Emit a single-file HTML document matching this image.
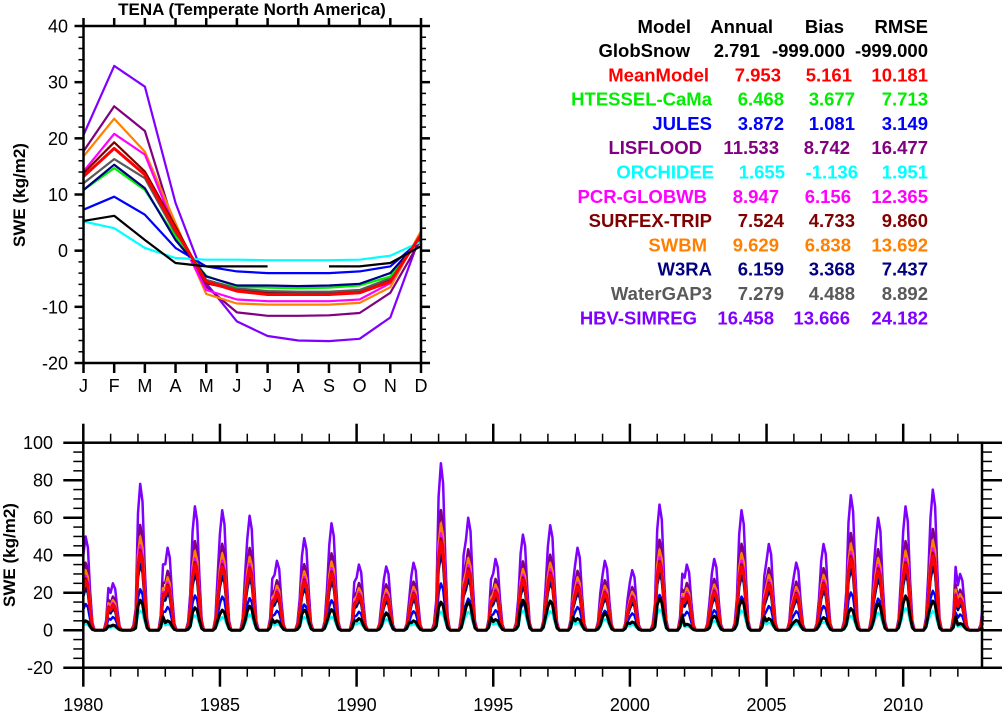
<!DOCTYPE html>
<html><head><meta charset="utf-8">
<style>
html,body{margin:0;padding:0;background:#fff;}
svg{display:block;font-family:"Liberation Sans",Arial,sans-serif;}
</style></head>
<body>
<svg id="fig" width="1004" height="712" viewBox="0 0 1004 712">
<g id="topPanel"></g>
<g id="botPanel"></g>
<g id="tbl"></g>
</svg>
<script>
// ---- data ----
const months = ["J","F","M","A","M","J","J","A","S","O","N","D"];
const modelNames = ["GlobSnow","MeanModel","HTESSEL-CaMa","JULES","LISFLOOD","ORCHIDEE","PCR-GLOBWB","SURFEX-TRIP","SWBM","W3RA","WaterGAP3","HBV-SIMREG"];
const modelColors = ["#000000","#ff0000","#00ee00","#0000ff","#800080","#00ffff","#ff00ff","#800000","#ff8000","#000080","#595959","#8000ff"];
const annualVals = ["2.791","7.953","6.468","3.872","11.533","1.655","8.947","7.524","9.629","6.159","7.279","16.458"];
const biasVals = ["-999.000","5.161","3.677","1.081","8.742","-1.136","6.156","4.733","6.838","3.368","4.488","13.666"];
const rmseVals = ["-999.000","10.181","7.713","3.149","16.477","1.951","12.365","9.860","13.692","7.437","8.892","24.182"];
const climGlobSnow = [5.3,6.2,1.9,-2.2,-2.8,-2.8,-2.8,null,-2.8,-2.8,-2.2,0.8];
const climMeanModel = [13.2,18.2,13.5,3.7,-5.5,-7.2,-7.8,-7.8,-7.8,-7.5,-5.5,2.8];
const climHTESSEL = [10.8,14.7,10.8,2.5,-4.5,-6.4,-6.6,-6.7,-6.6,-6.2,-4.6,2.5];
const climJULES = [7.3,9.6,6.4,0.5,-2.8,-3.7,-4.0,-4.0,-4.0,-3.7,-2.8,1.9];
const climLISFLOOD = [17.7,25.7,21.3,3.7,-6.4,-11.0,-11.6,-11.6,-11.5,-11.1,-7.5,2.0];
const climORCHIDEE = [5.2,4.0,0.5,-1.3,-1.6,-1.6,-1.7,-1.7,-1.7,-1.6,-0.9,1.6];
const climPCR = [14.1,20.8,17.1,3.7,-7.0,-8.7,-9.0,-9.0,-9.0,-8.7,-5.8,3.0];
const climSURFEX = [13.8,19.3,14.1,4.3,-5.8,-7.0,-7.5,-7.5,-7.5,-7.2,-5.2,2.8];
const climSWBM = [16.8,23.5,17.6,4.9,-7.7,-9.4,-9.6,-9.6,-9.6,-9.3,-6.5,3.5];
const climW3RA = [10.8,15.3,11.1,1.9,-4.6,-6.2,-6.2,-6.3,-6.2,-5.9,-4.0,2.2];
const climWaterGAP = [12.0,16.3,12.9,3.1,-5.2,-6.7,-7.2,-7.3,-7.3,-7.0,-4.9,2.5];
const climHBV = [20.6,32.9,29.2,8.5,-5.8,-12.6,-15.2,-16.0,-16.1,-15.7,-11.9,3.0];
const climAll = [climGlobSnow,climMeanModel,climHTESSEL,climJULES,climLISFLOOD,climORCHIDEE,climPCR,climSURFEX,climSWBM,climW3RA,climWaterGAP,climHBV];
const years = [1980,1981,1982,1983,1984,1985,1986,1987,1988,1989,1990,1991,1992,1993,1994,1995,1996,1997,1998,1999,2000,2001,2002,2003,2004,2005,2006,2007,2008,2009,2010,2011,2012];
const peakHBV = [50,25,78,44,66,64,61,37,49,57,35,34,36,89,60,38,51,56,44,37,32,67,35,38,64,46,36,46,72,60,66,75,30];
const peakGlobSnow = [5,2.7,16,5,12,10.7,12.8,5,10.7,11,6.2,8.9,5,15,15,5.7,16,15.6,6.2,8.9,4.4,16.9,3.2,7.5,16,6.2,5.3,6.8,11.6,14.2,18,15.6,3.6];
const peakRatio = [1,0.53,0.45,0.28,0.72,0.65,0.58,0.55,0.64,0.45,0.5,1];
const seasonShape = [0.8,1.0,0.88,0.42,0.08,0,0,0,0,0,0.1,0.45];
const topYTicks = [-20,-10,0,10,20,30,40];
const botYTicks = [-20,0,20,40,60,80,100];
const botXTicks = [1980,1985,1990,1995,2000,2005,2010];

const NS="http://www.w3.org/2000/svg";
function mk(parent,tag,attrs){const e=document.createElementNS(NS,tag);for(const k in attrs)e.setAttribute(k,attrs[k]);parent.appendChild(e);return e;}

// ---- top panel ----
const topG=document.getElementById('topPanel');
const tx0=83.5,tx1=421,ty0=26,ty1=363;
const tX=i=>tx0+i*(tx1-tx0)/11;
const tY=v=>ty0+(40-v)*(ty1-ty0)/60;
let tEl=mk(topG,'text',{x:252,y:15,'font-size':17,'font-weight':'bold','text-anchor':'middle'});tEl.textContent="TENA (Temperate North America)";


tEl=mk(topG,'text',{x:0,y:0,'font-size':17,'font-weight':'bold','text-anchor':'middle',transform:'translate(25,195) rotate(-90)'});tEl.textContent="SWE (kg/m2)";


const topDraw=[11,4,8,6,7,10,2,9,3,5,1,0];
topDraw.forEach(m=>{
  const d=climAll[m];let path="",pen=false;
  d.forEach((v,i)=>{if(v===null){pen=false;return;}path+=(pen?"L":"M")+tX(i).toFixed(1)+" "+tY(v).toFixed(1);pen=true;});
  const p=mk(topG,'path',{d:path,fill:'none',stroke:modelColors[m],'stroke-width':m===1?3:2.2,'stroke-linejoin':'round'});
  
  
});
mk(topG,'rect',{x:tx0,y:ty0,width:tx1-tx0,height:ty1-ty0,fill:'none',stroke:'#000','stroke-width':2.5});
for(let v=-20;v<=40;v+=2){const maj=v%10===0,L=maj?9:5;
  mk(topG,'line',{x1:tx0-L,x2:tx0,y1:tY(v),y2:tY(v),stroke:'#000','stroke-width':maj?2.5:1.5});
  mk(topG,'line',{x1:tx1,x2:tx1+L,y1:tY(v),y2:tY(v),stroke:'#000','stroke-width':maj?2.5:1.5});}
topYTicks.forEach(v=>{const e=mk(topG,'text',{x:68,y:tY(v)+6.5,'font-size':18,'text-anchor':'end'});e.textContent=v;
  
  });
months.forEach((m,i)=>{
  mk(topG,'line',{x1:tX(i),x2:tX(i),y1:ty0-8,y2:ty0,stroke:'#000','stroke-width':2.5});
  mk(topG,'line',{x1:tX(i),x2:tX(i),y1:ty1,y2:ty1+10,stroke:'#000','stroke-width':2.5});
  const e=mk(topG,'text',{x:tX(i),y:392,'font-size':18,'text-anchor':'middle'});e.textContent=m;
  
  });

// ---- bottom panel ----
const botG=document.getElementById('botPanel');
const bx0=83.3,ppy=27.33,by0=442.7,by1=667.7;
const bX=yr=>bx0+(yr-1980)*ppy;
const bY=v=>by0+(100-v)*(by1-by0)/120;
tEl=mk(botG,'text',{x:0,y:0,'font-size':17,'font-weight':'bold','text-anchor':'middle',transform:'translate(15,555) rotate(-90)'});tEl.textContent="SWE (kg/m2)";


const botDraw=[11,4,8,6,7,10,2,9,3,5,1,0];
botDraw.forEach(m=>{
  let path="";
  years.forEach((yr,yi)=>{
    const pk = m===0?peakGlobSnow[yi]:(m===5?peakGlobSnow[yi]*peakRatio[m]:peakHBV[yi]*peakRatio[m]);
    seasonShape.forEach((s,mi)=>{const x=bX(yr+mi/12),y=bY(pk*s);path+=(path?"L":"M")+x.toFixed(1)+" "+y.toFixed(1);});
  });
  const p=mk(botG,'path',{d:path,fill:'none',stroke:modelColors[m],'stroke-width':m===1||m===0?3:2.5,'stroke-linejoin':'round'});
  
  
});
const bx1=982;
mk(botG,'rect',{x:bx0,y:by0,width:bx1-bx0,height:by1-by0,fill:'none',stroke:'#000','stroke-width':2.5});
for(let v=-20;v<=100;v+=5){const maj=v%20===0,L=maj?20:10;
  mk(botG,'line',{x1:bx0-L,x2:bx0,y1:bY(v),y2:bY(v),stroke:'#000','stroke-width':maj?2.5:1.5});
  mk(botG,'line',{x1:bx1,x2:bx1+L,y1:bY(v),y2:bY(v),stroke:'#000','stroke-width':maj?2.5:1.5});}
botYTicks.forEach(v=>{const e=mk(botG,'text',{x:53,y:bY(v)+6.5,'font-size':18,'text-anchor':'end'});e.textContent=v;
  
  });
for(let yr=1980;yr<=2012;yr++){const maj=yr%5===0,L=maj?19:9;
  mk(botG,'line',{x1:bX(yr),x2:bX(yr),y1:by0-L,y2:by0,stroke:'#000','stroke-width':maj?2.5:1.5});
  mk(botG,'line',{x1:bX(yr),x2:bX(yr),y1:by1,y2:by1+L,stroke:'#000','stroke-width':maj?2.5:1.5});}
botXTicks.forEach(yr=>{const e=mk(botG,'text',{x:bX(yr),y:711,'font-size':18,'text-anchor':'middle'});e.textContent=yr;
  
  });

// ---- stats table ----
const tbl=document.getElementById('tbl');
const nameEnd=[690,709,712,712,702,714,707,712,707,712,712,697];
const annEnd=[760,781,784,784,779,785,779,784,779,784,784,774];
const biasEnd=[845,852,855,855,850,858,851,855,851,855,855,850];
function tt(x,y,s,c,nm){const e=mk(tbl,'text',{x:x,y:y,'font-size':18.5,'font-weight':'bold','text-anchor':'end',fill:c});e.textContent=s;
  
  }
tt(691,33,"Model","#000","header-model");tt(773,33,"Annual","#000","header-annual");tt(844,33,"Bias","#000","header-bias");tt(928,33,"RMSE","#000","header-rmse");
modelNames.forEach((n,i)=>{const y=57+i*24.3,c=modelColors[i];
  tt(nameEnd[i],y,n,c,"table-model-name");tt(annEnd[i],y,annualVals[i],c,"table-annual");
  tt(biasEnd[i],y,biasVals[i],c,"table-bias");tt(928,y,rmseVals[i],c,"table-rmse");});
</script>
</body></html>
